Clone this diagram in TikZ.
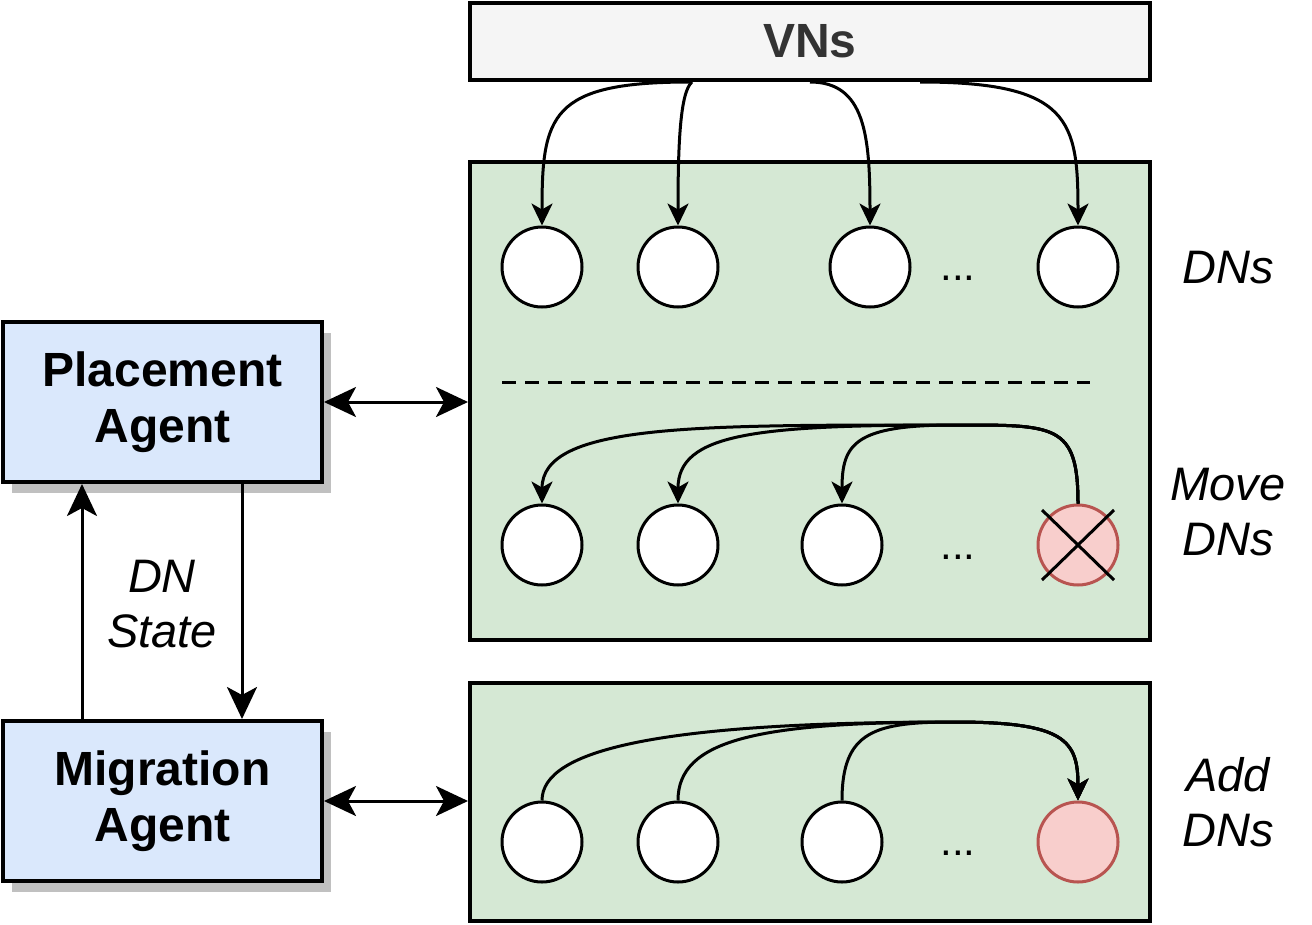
\documentclass[tikz,border=0pt]{standalone}
\usepackage{fontspec}
\setmainfont{Liberation Sans}
\usetikzlibrary{arrows.meta,shadows}
\definecolor{vnfill}{HTML}{F5F5F5}
\definecolor{vntext}{HTML}{333333}
\definecolor{dnfill}{HTML}{D5E8D4}
\definecolor{agentfill}{HTML}{DAE8FC}
\definecolor{gonefill}{HTML}{F8CECC}
\definecolor{gonedraw}{HTML}{B85450}
\definecolor{shade}{HTML}{C0C0C0}
\tikzset{
  frame/.style={draw,line width=4pt,inner sep=0pt},
  agent/.style={frame,fill=agentfill,minimum width=319pt,minimum height=160pt,
    align=center,font=\fontsize{48}{56}\selectfont\bfseries,
    drop shadow={shadow xshift=9pt,shadow yshift=-11pt,fill=shade,opacity=1}},
  dn/.style={circle,draw,line width=3pt,fill=white,minimum size=80pt,inner sep=0pt},
  gone/.style={dn,draw=gonedraw,fill=gonefill},
  note/.style={align=center,inner sep=0pt,font=\fontsize{47}{55}\selectfont\itshape},
  dots/.style={inner sep=0pt,font=\fontsize{42}{42}\selectfont},
  link/.style={line width=3pt,-{Stealth[length=22pt,width=21pt,inset=6pt]}},
  bigarrow/.style={line width=3pt,-{Stealth[length=32pt,width=30pt,inset=8pt]}},
  bothways/.style={line width=3pt,{Stealth[length=32pt,width=30pt,inset=8pt]}-{Stealth[length=32pt,width=30pt,inset=8pt]}}
}
\begin{document}
\begin{tikzpicture}[x=1pt,y=-1pt]
    \useasboundingbox (0,0) rectangle (1312,924);
    % boxes
    \node[frame,fill=vnfill,minimum width=680pt,minimum height=77pt,
      text=vntext,font=\fontsize{48}{56}\selectfont\bfseries] (vns) at (810,41.5) {VNs};
    \node[frame,fill=dnfill,minimum width=680pt,minimum height=478pt] (dntop) at (810,401) {};
    \node[frame,fill=dnfill,minimum width=680pt,minimum height=238pt] (dnbot) at (810,801.5) {};
    \node[agent] (place) at (162.5,402) {Placement\\Agent};
    \node[agent] (migr) at (162.5,801) {Migration\\Agent};
    % DN rows
    \node[dn] (d1) at (542,267) {};
    \node[dn] (d2) at (678,267) {};
    \node[dn] (d3) at (870,267) {};
    \node[dn] (d4) at (1078,267) {};
    \node[dots] (dd) at (958,278) {...};
    \node[dn] (m1) at (542,545) {};
    \node[dn] (m2) at (678,545) {};
    \node[dn] (m3) at (842,545) {};
    \node[gone] (m4) at (1078,545) {};
    \node[dots] (md) at (958,557) {...};
    \draw[line width=3pt] ([shift={(-36,-35)}]m4.center) -- ([shift={(36,35)}]m4.center);
    \draw[line width=3pt] ([shift={(36,-35)}]m4.center) -- ([shift={(-36,35)}]m4.center);
    \node[dn] (a1) at (542,842) {};
    \node[dn] (a2) at (678,842) {};
    \node[dn] (a3) at (842,842) {};
    \node[gone] (a4) at (1078,842) {};
    \node[dots] (ad) at (958,853) {...};
    \draw[line width=3pt,dash pattern=on 14pt off 9pt] (502,382) -- (1090,382);
    % labels
    \node[note] (dnlbl) at (1228,268) {DNs};
    \node[note] (movelbl) at (1228,512) {Move\\DNs};
    \node[note] (addlbl) at (1228,802) {Add\\DNs};
    \node[note] (statelbl) at (162,604) {DN\\State};
    % VNs to DNs
    \draw[link] ([xshift=-120pt]vns.south) .. controls +(-140,0) and +(0,-110) .. (d1.north);
    \draw[link] ([xshift=-118pt]vns.south) .. controls +(-12,10) and +(0,-80) .. (d2.north);
    \draw[link] (vns.south) .. controls +(55,0) and +(0,-90) .. (d3.north);
    \draw[link] ([xshift=110pt]vns.south) .. controls +(150,0) and +(0,-105) .. (d4.north);
    % move
    \coordinate (mvtop) at (955,425);
    \foreach \t/\a/\b in {m1/260/80, m2/200/70, m3/100/60}
      \draw[link] (m4.north) .. controls +(0,-80) and +(100,0) .. (mvtop)
        .. controls +(-\a,0) and +(0,-\b) .. (\t.north);
    % add
    \coordinate (adtop) at (955,722);
    \foreach \s/\a/\b in {a1/50/300, a2/60/200, a3/70/80}
      \draw[link] (\s.north) .. controls +(0,-\a) and +(-\b,0) .. (adtop)
        .. controls +(110,0) and +(0,-60) .. (a4.north);
    % agents
    \draw[bothways] (place.east) -- (place.east -| dntop.west);
    \draw[bothways] (migr.east) -- (migr.east -| dnbot.west);
    \draw[bigarrow] ([xshift=-80.5pt]migr.north) -- ([xshift=-80.5pt]place.south);
    \draw[bigarrow] ([xshift=79.5pt]place.south) -- ([xshift=79.5pt]migr.north);
\end{tikzpicture}
\end{document}
